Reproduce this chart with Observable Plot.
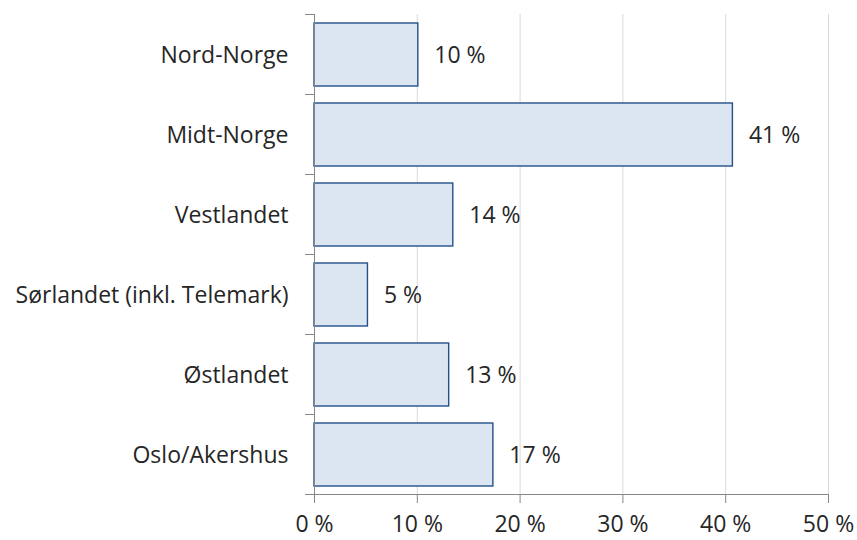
<!DOCTYPE html>
<html>
<head>
<meta charset="utf-8">
<script src="https://cdn.jsdelivr.net/npm/d3@7"></script>
<script src="https://cdn.jsdelivr.net/npm/@observablehq/plot@0.6"></script>
<style>
  html, body { margin: 0; padding: 0; background: #fff; }
  #chart svg { font-family: "Open Sans", Lato, sans-serif; }
</style>
</head>
<body>
<div id="chart"></div>
<script>
const regions = ["Nord-Norge", "Midt-Norge", "Vestlandet", "Sørlandet (inkl. Telemark)", "Østlandet", "Oslo/Akershus"];
const shares = [10.1, 40.7, 13.5, 5.2, 13.1, 17.4];
const xTicks = [0, 10, 20, 30, 40, 50];

const data = regions.map((r, i) => ({region: r, value: shares[i]}));

const chart = Plot.plot({
  width: 857,
  height: 540,
  marginLeft: 314,
  marginRight: 29,
  marginTop: 14,
  marginBottom: 46,
  style: {fontSize: "23px", color: "#262626", background: "#fff"},
  x: {domain: [0, 50], ticks: xTicks},
  y: {domain: regions, padding: 0},
  marks: [
    Plot.gridX(xTicks.filter(d => d > 0), {stroke: "#d9d9d9", strokeOpacity: 1}),
    Plot.barX(data, {x: "value", y: "region", fill: "#dce6f2", stroke: "#24508a", strokeWidth: 1.4, insetTop: 9, insetBottom: 8}),
    Plot.frame({anchor: "left", stroke: "#868686"}),
    Plot.frame({anchor: "bottom", stroke: "#868686", insetLeft: -9}),
    Plot.axisY({tickSize: 0, tickPadding: 26, fontSize: 23, dy: 1.5, label: null}),
    Plot.axisY({tickSize: 9, text: null, dy: -40, stroke: "#868686", label: null}),
    Plot.axisX({tickSize: 9, tickPadding: 12, stroke: "#868686", fontSize: 23, label: null, tickFormat: d => `${d} %`}),
    Plot.text(data, {x: "value", y: "region", text: d => `${Math.round(d.value)} %`, dx: 16, dy: 1.5, textAnchor: "start", fontSize: 23, fill: "#262626"})
  ]
});
document.getElementById("chart").append(chart);
</script>
</body>
</html>
